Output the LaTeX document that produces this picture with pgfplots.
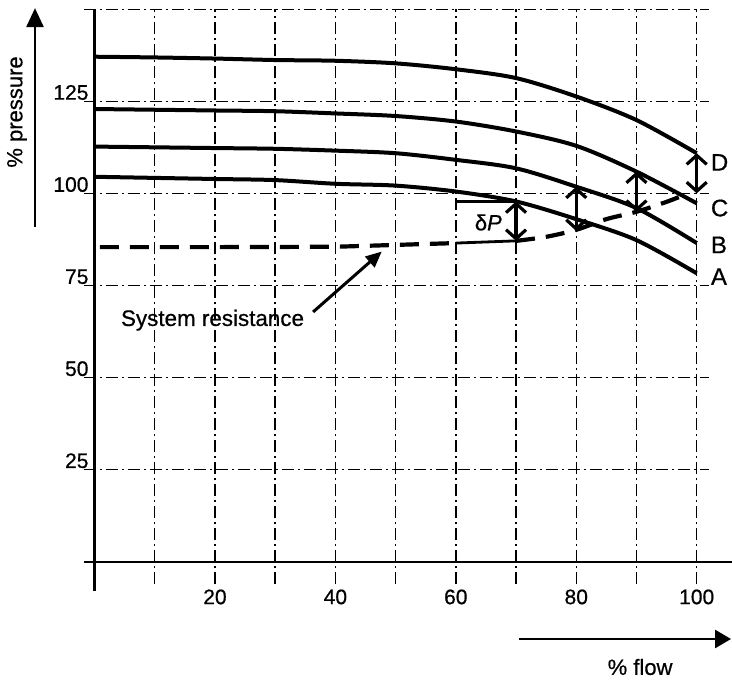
\documentclass[border=0pt]{standalone}
\usepackage{fontspec}
\setmainfont{Liberation Sans}[FakeBold=0.6]
\usepackage{pgfplots}
\pgfplotsset{compat=1.18}
\usetikzlibrary{arrows.meta}

\begin{document}
\begin{tikzpicture}
\useasboundingbox (0,0) rectangle (366pt,339.5pt);
\begin{axis}[
  at={(41.83pt,47.25pt)}, anchor=south west,
  x=3.011pt, y=1.8415pt,
  xmin=-1.8, xmax=102, ymin=-6.2, ymax=150,
  axis line style={draw=none},
  major tick length=0pt,
  xtick={10,20,...,100}, xticklabels={,20,,40,,60,,80,,100},
  ytick={25,50,...,150}, yticklabels={25,50,75,100,125,},
  grid=major,
  major grid style={black, line width=0.7pt, dash pattern=on 6pt off 2pt on 1pt off 2pt},
  tick label style={font=\fontsize{10.5}{12}\selectfont, inner sep=0pt},
  xticklabel style={anchor=north, yshift=-2.3pt},
  yticklabel style={anchor=south east, xshift=2.6pt, yshift=0.5pt},
  clip=false,
  /pgf/number format/assume math mode=true,
  every axis plot/.append style={black},
]
% pump curves A..D
\addplot[line width=2pt, smooth] coordinates {
  (0,137.1) (10,136.9) (20,136.6) (30,136.2) (40,136.0) (50,135.3)
  (60,133.7) (70,131.3) (80,126.3) (90,119.9) (100,110.9)};
\addplot[line width=2pt, smooth] coordinates {
  (0,122.9) (10,122.7) (20,122.5) (30,122.3) (40,121.7) (50,121.0)
  (60,119.5) (70,116.8) (80,112.9) (90,105.9) (100,97.3)};
\addplot[line width=2pt, smooth] coordinates {
  (0,112.7) (10,112.5) (20,112.3) (30,112.1) (40,111.6) (50,110.9)
  (60,109.1) (70,106.8) (80,101.8) (90,96.0) (100,86.5)};
\addplot[line width=2pt, smooth] coordinates {
  (0,104.5) (10,104.2) (20,103.9) (30,103.6) (40,102.6) (50,102.1)
  (60,100.5) (70,97.8) (80,93.0) (90,87.3) (100,78.3)};

% system resistance
\addplot[line width=2.1pt, dash pattern=on 9.5pt off 5.5pt] coordinates {
  (0.9,85.4) (20,85.4) (40,85.5) (50,86.0) (60,86.5)};
\addplot[line width=1.4pt] coordinates {(60,86.5) (70,87.1)};
\addplot[line width=2.1pt, dash pattern=on 9.5pt off 5.5pt, smooth] coordinates {
  (70,87.1) (75,88.2) (80,90.1) (85,93.0) (90,95.0) (95,97.7) (98,99.6)};

% delta P construction
\addplot[line width=1.1pt] coordinates {(60,97.8) (70,97.8)};
\addplot[line width=1.1pt] coordinates {(60,97.8) (60,96.2)};

% axes
\draw[line width=1pt] (axis cs:-1.8,0) -- (axis cs:105.9,0);
\draw[line width=1.2pt] (axis cs:0,-8) -- (axis cs:0,150);

% double arrows
\tikzset{darr/.style={line width=1.6pt,
  {Straight Barb[length=4.5pt,width=10pt,line width=1.6pt]}-{Straight Barb[length=4.5pt,width=10pt,line width=1.6pt]}}}
\draw[darr] (axis cs:70,97.8) -- (axis cs:70,87.1);
\draw[darr] (axis cs:80,101.8) -- (axis cs:80,89.8);
\draw[darr] (axis cs:90,105.9) -- (axis cs:90,95.0);
\draw[darr] (axis cs:100,110.9) -- (axis cs:100,100);

\node[font=\fontsize{11}{13}\selectfont] at (axis cs:65.4,92.1) {δ\textit{P}};

% curve labels
\begin{scope}[every node/.style={anchor=west, inner sep=0pt, font=\fontsize{12}{14}\selectfont}]
\node at (axis cs:102.3,108.4) {D};
\node at (axis cs:102.3,96.0) {C};
\node at (axis cs:102.3,86.0) {B};
\node at (axis cs:102.3,77.4) {A};
\end{scope}

% system resistance label
\node[anchor=base, inner sep=0pt, font=\fontsize{11.2}{13}\selectfont] at (axis cs:19.6,64.0) {System resistance};
\draw[line width=1.5pt, -{Triangle[length=8pt,width=7pt]}] (axis cs:36.3,67.8) -- (axis cs:47.7,84.2);

% axis titles with arrows
\draw[line width=1.3pt, -{Triangle[length=9.5pt,width=8.5pt]}] (axis cs:-9.88,90.9) -- (axis cs:-9.88,150.3);
\node[rotate=90, inner sep=0pt, font=\fontsize{11}{13}\selectfont] at (axis cs:-12.87,122.1) {\% pressure};
\draw[line width=1.3pt, -{Triangle[length=8pt,width=9pt]}] (axis cs:70.5,-21.0) -- (axis cs:105.7,-21.0);
\node[inner sep=0pt, font=\fontsize{11}{13}\selectfont] at (axis cs:90.6,-28.6) {\% flow};
\end{axis}
\end{tikzpicture}
\end{document}
